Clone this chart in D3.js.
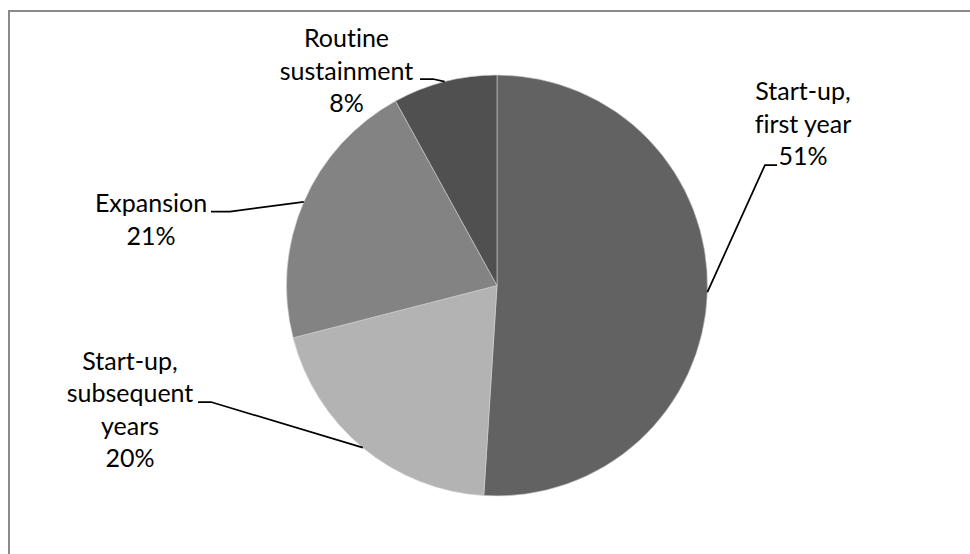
<!DOCTYPE html>
<html><head><meta charset="utf-8">
<script src="https://cdn.jsdelivr.net/npm/d3@7"></script>
<style>html,body{margin:0;padding:0;background:#fff;overflow:hidden}
text{font-variant-ligatures:none;font-feature-settings:"liga" 0,"clig" 0}</style>
</head><body>
<svg id="chart" width="970" height="554"></svg>
<script>
const categories = ["Start-up, first year", "Start-up, subsequent years", "Expansion", "Routine sustainment"];
const values = [51, 20, 21, 8];
const labelLines = [["Start-up,", "first year", "51%"], ["Start-up,", "subsequent", "years", "20%"], ["Expansion", "21%"], ["Routine", "sustainment", "8%"]];
const colors = ["#626262", "#b3b3b3", "#838383", "#505050"];

// layout (not data)
const cx = 497, cy = 285.5, R = 210.5;
const labelLayout = [
  {x: 803, y: 100, lineEnd: [777, 165], elbow: [765, 165]},
  {x: 130, y: 369.5, lineEnd: [198, 402], elbow: [211, 402]},
  {x: 151, y: 212, lineEnd: [211, 211.5], elbow: [230, 211.5]},
  {x: 346.5, y: 47, lineEnd: [420, 79], elbow: [433, 79]}
];
const lineH = 32.5;

const svg = d3.select("#chart");
svg.append("rect").attr("x", 9).attr("y", 11).attr("width", 1200).attr("height", 1200)
  .attr("fill", "#fff").attr("stroke", "#8a8a8a").attr("stroke-width", 2);

const pie = d3.pie().sort(null).value(d => d)(values);
const arc = d3.arc().innerRadius(0).outerRadius(R);
const g = svg.append("g").attr("transform", `translate(${cx},${cy})`);
g.selectAll("path").data(pie).join("path")
  .attr("d", arc).attr("fill", (d, i) => colors[i])
  .attr("stroke", "#d0d0d0").attr("stroke-width", 0.6);

const edge = d3.arc().innerRadius(R).outerRadius(R);
pie.forEach((d, i) => {
  const c = edge.centroid(d);
  const L = labelLayout[i];
  svg.append("polyline")
    .attr("points", [L.lineEnd, L.elbow, [cx + c[0], cy + c[1]]].map(p => p.join(",")).join(" "))
    .attr("fill", "none").attr("stroke", "#000").attr("stroke-width", 1.75);
  const t = svg.append("text").attr("text-anchor", "middle")
    .attr("font-family", "Lato, 'Open Sans', sans-serif").attr("font-size", 25).attr("fill", "#000");
  labelLines[i].forEach((ln, k) => {
    t.append("tspan").attr("x", L.x).attr("y", L.y + k * lineH).text(ln);
  });
});
</script>
</body></html>
